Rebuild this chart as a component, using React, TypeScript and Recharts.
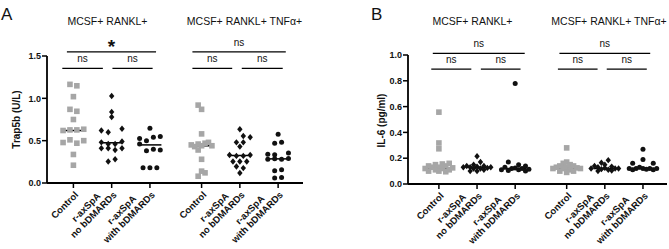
import React from "react"
import { ScatterChart, Scatter, XAxis, YAxis, ReferenceLine } from "recharts"

const FONT = '"Liberation Sans", Arial, Helvetica, sans-serif'

// x position of each group; the TNFα block sits a little further right
const groupX = [0, 1, 2, 3.35, 4.35, 5.35]
const groupLabels = [
  ["Control"],
  ["r-axSpA", "no bDMARDs"],
  ["r-axSpA", "with bDMARDs"],
  ["Control"],
  ["r-axSpA", "no bDMARDs"],
  ["r-axSpA", "with bDMARDs"],
]
const groupShape = ["square", "diamond", "circle", "square", "diamond", "circle"]
const conditions = ["MCSF+ RANKL+", "MCSF+ RANKL+ TNFα+"]

// each point: [value, jitter slot]
type Pt = [number, number]
const SLOT = 0.18

// Trap5b (U/L)
const trapCtrl: Pt[] = [[1.165, -0.5], [1.148, 0.5], [1.02, 0], [0.87, -0.5], [0.847, 0.5], [0.75, 0], [0.62, -1.5], [0.627, -0.5], [0.627, 0.5], [0.635, 1.5], [0.478, -1.5], [0.51, -0.5], [0.47, 0.5], [0.5, 1.5], [0.337, 0], [0.21, 0]]
const trapNoBd: Pt[] = [[1.027, 0], [0.84, 0], [0.78, 0], [0.62, -1.5], [0.6, -0.5], [0.64, 1.5], [0.48, -1.5], [0.46, -0.5], [0.46, 0.5], [0.49, 1.5], [0.41, -1.5], [0.41, -0.5], [0.39, 0.5], [0.41, 1.5], [0.254, -0.5], [0.28, 0.5]]
const trapWithBd: Pt[] = [[0.647, 0], [0.525, -1.5], [0.5, -0.5], [0.54, 0.5], [0.55, 1.5], [0.46, -1.5], [0.38, -0.5], [0.4, 0.5], [0.39, 1.5], [0.18, -1], [0.18, 0], [0.18, 1]]
const trapCtrlTnf: Pt[] = [[0.92, -0.5], [0.87, 0], [0.58, 0], [0.45, -1.5], [0.43, -1], [0.46, -0.5], [0.47, 0.5], [0.48, 1], [0.44, 1.5], [0.44, 0], [0.39, -0.5], [0.28, 0], [0.14, 0], [0.12, 0.5], [0.08, -0.5]]
const trapNoBdTnf: Pt[] = [[0.635, 0], [0.556, 0.5], [0.54, 1.5], [0.48, -0.5], [0.48, 0.5], [0.43, 0], [0.33, -1.5], [0.32, -0.5], [0.32, 0.5], [0.33, 1.5], [0.254, -1], [0.254, 0], [0.254, 1], [0.195, -0.5], [0.176, 0.5], [0.118, 0]]
const trapWithBdTnf: Pt[] = [[0.576, 0], [0.47, -0.5], [0.48, 0.5], [0.34, -1.5], [0.333, -0.5], [0.353, 1.5], [0.28, -1.5], [0.285, -0.5], [0.28, 0.5], [0.29, 1.5], [0.145, -0.5], [0.157, 0.5], [0.06, -0.5], [0.066, 0.5]]
const trapMedians = [0.62, 0.475, 0.45, 0.44, 0.325, 0.285]

// IL-6 (pg/ml)
const il6Ctrl: Pt[] = [[0.557, 0], [0.318, 0], [0.273, 0], [0.16, 1.5], [0.155, 0.5], [0.15, -0.5], [0.14, -1.5], [0.14, 1], [0.13, 0], [0.13, -1], [0.125, 2], [0.12, -2], [0.12, 0.5], [0.11, -0.5], [0.11, 1.5], [0.1, -1.5], [0.1, 0], [0.095, 1]]
const il6NoBd: Pt[] = [[0.215, 0], [0.17, 0.5], [0.15, -0.5], [0.14, 1], [0.14, -1.5], [0.135, 0], [0.13, -1], [0.13, 2], [0.13, -2], [0.125, 1.5], [0.12, 0.5], [0.12, -0.5], [0.11, 1], [0.1, -1], [0.1, 0]]
const il6WithBd: Pt[] = [[0.78, 0], [0.17, -1], [0.15, 0.5], [0.14, 1.5], [0.13, -1.5], [0.125, 0], [0.12, -0.5], [0.12, 1], [0.115, 2], [0.11, -2], [0.11, 0.5], [0.105, -1], [0.1, 1.5]]
const il6CtrlTnf: Pt[] = [[0.28, 0], [0.17, 0], [0.16, -0.5], [0.15, 0.5], [0.14, -1], [0.14, 1], [0.13, -1.5], [0.13, 0], [0.125, 1.5], [0.12, -2], [0.12, -0.5], [0.12, 2], [0.11, 0.5], [0.1, -1], [0.1, 1], [0.09, 0]]
const il6NoBdTnf: Pt[] = [[0.185, 0.5], [0.165, -0.5], [0.15, 0], [0.14, -1.5], [0.135, 1], [0.13, -1], [0.125, 0], [0.12, -2], [0.12, 1.5], [0.12, 2], [0.115, -0.5], [0.11, 0.5], [0.105, 1], [0.1, -1]]
const il6WithBdTnf: Pt[] = [[0.27, 0], [0.19, 0], [0.16, -1.5], [0.16, 1.5], [0.13, -0.5], [0.12, -2], [0.12, -1], [0.12, 0], [0.12, 1], [0.12, 2], [0.115, 0.5], [0.11, -1.5], [0.11, 1.5]]
const il6Medians = [0.12, 0.13, 0.12, 0.12, 0.12, 0.12]

// significance brackets: [x from, x to, height, label]
type Bracket = [number, number, number, string]
const trapBrackets: Bracket[] = [
  [-0.17, 2.16, 1.548, "*"],
  [-0.29, 0.77, 1.353, "ns"],
  [1.02, 2.07, 1.353, "ns"],
  [3.11, 5.55, 1.548, "ns"],
  [3.11, 4.15, 1.353, "ns"],
  [4.4, 5.47, 1.353, "ns"],
]
const il6Brackets: Bracket[] = [
  [-0.16, 2.25, 1.013, "ns"],
  [-0.2, 0.85, 0.89, "ns"],
  [1.1, 2.14, 0.89, "ns"],
  [3.16, 5.54, 1.013, "ns"],
  [3.12, 4.16, 0.89, "ns"],
  [4.4, 5.45, 0.89, "ns"],
]

const trapTicks = [0, 0.5, 1, 1.5]
const il6Ticks = [0, 0.2, 0.4, 0.6, 0.8, 1]

let ctx: CanvasRenderingContext2D | null = null
function textWidth(s: string, font = `bold 9.5px ${FONT}`) {
  if (!ctx) ctx = document.createElement("canvas").getContext("2d")
  if (!ctx) return s.length * 5.5
  ctx.font = font
  return ctx.measureText(s).width
}

function toPoints(groups: Pt[][], shape: string) {
  return groups.flatMap((g, i) =>
    groupShape[i] === shape ? g.map(([v, s]) => ({ x: groupX[i] + s * SLOT, y: v })) : []
  )
}

const Square = (p: any) => <rect x={p.cx - 2.8} y={p.cy - 2.8} width={5.6} height={5.6} fill="#a6a6a6" />
const Diamond = (p: any) => (
  <polygon
    points={`${p.cx},${p.cy - 3.2} ${p.cx + 2.7},${p.cy} ${p.cx},${p.cy + 3.2} ${p.cx - 2.7},${p.cy}`}
    fill="#111"
  />
)
const Dot = (p: any) => <circle cx={p.cx} cy={p.cy} r={2.5} fill="#111" />

function XTick({ x, y, payload }: any) {
  const idx = groupX.indexOf(payload.value)
  const lines = groupLabels[idx] ?? []
  const wLast = textWidth(lines[lines.length - 1] ?? "")
  return (
    <g transform={`translate(${x + 3},${y + 3}) rotate(-45)`}>
      {lines.map((line, i) => {
        const back = lines.length - 1 - i
        return (
          <text
            key={i}
            x={back ? -wLast / 2 : 0}
            y={-back * 10.5}
            textAnchor={back ? "middle" : "end"}
            dominantBaseline="central"
            fontSize={9.5}
            fontWeight="bold"
            fontFamily={FONT}
            fill="#111"
          >
            {line}
          </text>
        )
      })}
    </g>
  )
}

const axisStroke = { stroke: "#000", strokeWidth: 1.8 }
const tickStroke = { stroke: "#000", strokeWidth: 1.5 }

function Panel(props: {
  left: number
  width: number
  margin: { top: number; right: number; bottom: number; left: number }
  xDomain: [number, number]
  yDomain: [number, number]
  yTicks: number[]
  groups: Pt[][]
  medians: number[]
  brackets: Bracket[]
}) {
  const { left, width, margin, xDomain, yDomain, yTicks, groups, medians, brackets } = props
  return (
    <div style={{ position: "absolute", left, top: 0 }}>
      <ScatterChart width={width} height={249} margin={margin}>
        <XAxis
          type="number"
          dataKey="x"
          domain={xDomain}
          ticks={groupX}
          interval={0}
          allowDataOverflow
          height={50}
          tickSize={5}
          axisLine={axisStroke}
          tickLine={tickStroke}
          tick={<XTick />}
        />
        <YAxis
          type="number"
          dataKey="y"
          domain={yDomain}
          ticks={yTicks}
          allowDataOverflow
          width={35}
          tickSize={5}
          tickMargin={1}
          axisLine={axisStroke}
          tickLine={tickStroke}
          tickFormatter={(v: number) => v.toFixed(1)}
          tick={{ fontSize: 9, fontWeight: "bold", fill: "#111", fontFamily: FONT }}
        />
        {medians.map((m, i) => (
          <ReferenceLine
            key={"m" + i}
            segment={[{ x: groupX[i] - 0.3, y: m }, { x: groupX[i] + 0.3, y: m }]}
            stroke="#000"
            strokeWidth={1.5}
            ifOverflow="visible"
          />
        ))}
        <Scatter data={toPoints(groups, "square")} shape={Square} isAnimationActive={false} />
        <Scatter data={toPoints(groups, "diamond")} shape={Diamond} isAnimationActive={false} />
        <Scatter data={toPoints(groups, "circle")} shape={Dot} isAnimationActive={false} />
        {brackets.map(([x1, x2, y, label], i) => (
          <ReferenceLine
            key={"b" + i}
            segment={[{ x: x1, y }, { x: x2, y }]}
            stroke="#000"
            strokeWidth={1.3}
            ifOverflow="visible"
            label={{
              value: label,
              position: "top",
              offset: label === "*" ? -1 : 6,
              fontSize: label === "*" ? 19 : 10,
              fontWeight: label === "*" ? "bold" : "normal",
              fill: "#111",
              fontFamily: FONT,
            }}
          />
        ))}
      </ScatterChart>
    </div>
  )
}

export default function App() {
  return (
    <div style={{ position: "absolute", left: 0, top: 0, width: 669, height: 249, background: "#fff" }}>
      <Panel
        left={0}
        width={334}
        margin={{ top: 56, right: 31, bottom: 16, left: 12 }}
        xDomain={[-0.69, 6.0]}
        yDomain={[0, 1.5]}
        yTicks={trapTicks}
        groups={[trapCtrl, trapNoBd, trapWithBd, trapCtrlTnf, trapNoBdTnf, trapWithBdTnf]}
        medians={trapMedians}
        brackets={trapBrackets}
      />
      <Panel
        left={334}
        width={335}
        margin={{ top: 55, right: 2, bottom: 15, left: 39 }}
        xDomain={[-0.81, 5.98]}
        yDomain={[0, 1]}
        yTicks={il6Ticks}
        groups={[il6Ctrl, il6NoBd, il6WithBd, il6CtrlTnf, il6NoBdTnf, il6WithBdTnf]}
        medians={il6Medians}
        brackets={il6Brackets}
      />
      <svg width={669} height={249} style={{ position: "absolute", left: 0, top: 0, pointerEvents: "none" }} fontFamily={FONT}>
        <text x={1} y={20} fontSize={17} fill="#111">A</text>
        <text x={371} y={20} fontSize={17} fill="#111">B</text>
        <text x={107.5} y={24.5} fontSize={10.5} textAnchor="middle" fill="#111">{conditions[0]}</text>
        <text x={244.5} y={24.5} fontSize={10.5} textAnchor="middle" fill="#111">{conditions[1]}</text>
        <text x={472.5} y={24.5} fontSize={10.5} textAnchor="middle" fill="#111">{conditions[0]}</text>
        <text x={609} y={24.5} fontSize={10.5} textAnchor="middle" fill="#111">{conditions[1]}</text>
        <text transform="translate(20,119.5) rotate(-90)" fontSize={10} fontWeight="bold" textAnchor="middle" fill="#111">Trap5b (U/L)</text>
        <text transform="translate(385,120.5) rotate(-90)" fontSize={10} fontWeight="bold" textAnchor="middle" fill="#111">IL-6 (pg/ml)</text>
      </svg>
    </div>
  )
}
